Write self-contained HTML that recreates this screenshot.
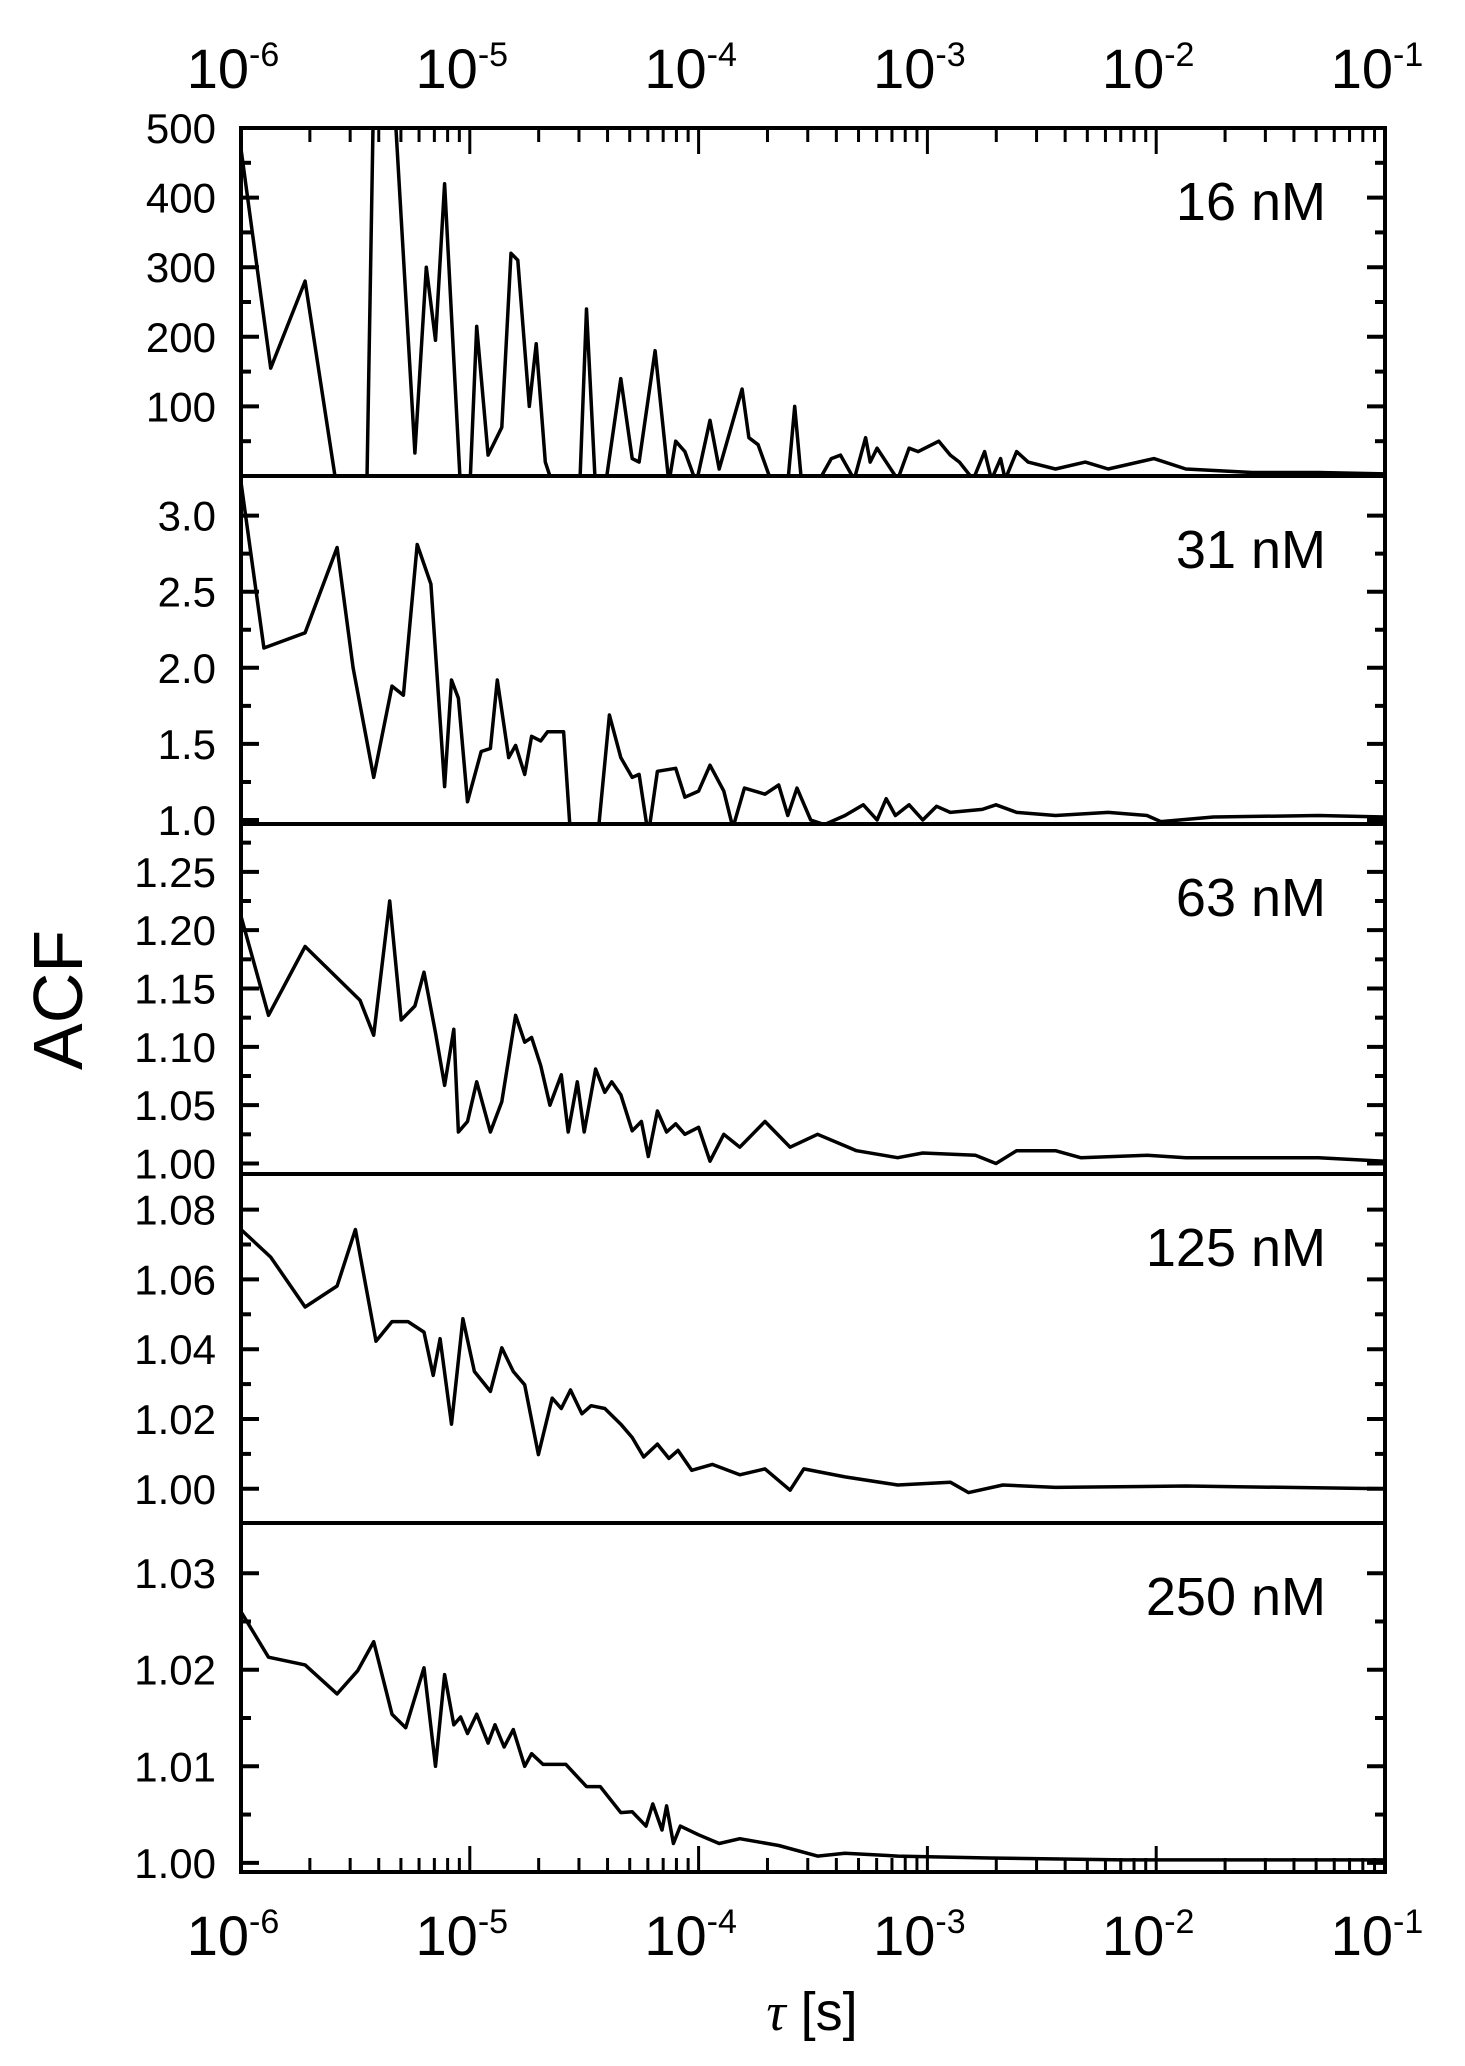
<!DOCTYPE html>
<html><head><meta charset="utf-8"><style>
html,body{margin:0;padding:0;background:#fff;}
svg{display:block;font-family:"Liberation Sans",Arial,sans-serif;}
</style></head>
<body>
<svg id="chart" width="1465" height="2066" viewBox="0 0 1465 2066" xmlns="http://www.w3.org/2000/svg">
<g id="marks"></g>
<g id="frame"></g>
<text x="0" y="0" transform="translate(82,1000) rotate(-90)" text-anchor="middle" font-size="70" fill="#000">ACF</text>
<text x="812" y="2030" text-anchor="middle" font-size="54" fill="#000"><tspan font-family="Liberation Serif" font-style="italic">τ</tspan> [s]</text>
</svg>
<script>
const labels = ["16 nM","31 nM","63 nM","125 nM","250 nM"];
const xTickExps = [-6,-5,-4,-3,-2,-1];
const yRanges = [[0,500],[0.974,3.26],[0.991,1.291],[0.9902,1.0902],[0.99905,1.0352]];
const yMajors = [[100,200,300,400,500],[1.0,1.5,2.0,2.5,3.0],[1.00,1.05,1.10,1.15,1.20,1.25],[1.00,1.02,1.04,1.06,1.08],[1.00,1.01,1.02,1.03]];
const yMajorLabels = [["100","200","300","400","500"],["1.0","1.5","2.0","2.5","3.0"],["1.00","1.05","1.10","1.15","1.20","1.25"],["1.00","1.02","1.04","1.06","1.08"],["1.00","1.01","1.02","1.03"]];
const yMinorStep = [50,0.25,0.025,0.01,0.005];

const logTau1 = [-6.00,-5.87,-5.72,-5.58,-5.45,-5.42,-5.33,-5.24,-5.19,-5.15,-5.11,-5.04,-5.00,-4.97,-4.92,-4.86,-4.82,-4.79,-4.74,-4.71,-4.67,-4.63,-4.52,-4.49,-4.45,-4.41,-4.34,-4.29,-4.26,-4.19,-4.13,-4.10,-4.06,-4.01,-3.95,-3.91,-3.81,-3.78,-3.74,-3.68,-3.61,-3.58,-3.55,-3.48,-3.42,-3.38,-3.32,-3.27,-3.25,-3.22,-3.13,-3.08,-3.04,-2.95,-2.90,-2.86,-2.80,-2.75,-2.72,-2.68,-2.66,-2.61,-2.56,-2.44,-2.31,-2.21,-2.01,-1.87,-1.58,-1.29,-1.00];
const acf1 = [470,155,280,-20,-20,560,540,33,300,195,420,-20,-20,215,30,70,320,310,100,190,20,-20,-20,240,-20,-20,140,25,20,180,-10,50,35,-10,80,10,125,55,45,-10,-10,100,-10,-10,25,30,-5,55,20,40,-5,40,35,50,30,20,-5,35,-5,25,-5,35,20,10,20,10,25,10,5,5,3];

const logTau2 = [-6.00,-5.90,-5.72,-5.58,-5.51,-5.42,-5.34,-5.29,-5.23,-5.17,-5.11,-5.08,-5.05,-5.01,-4.95,-4.91,-4.88,-4.83,-4.80,-4.76,-4.73,-4.69,-4.66,-4.59,-4.56,-4.44,-4.39,-4.34,-4.29,-4.26,-4.22,-4.18,-4.10,-4.06,-4.00,-3.95,-3.89,-3.85,-3.80,-3.71,-3.65,-3.61,-3.57,-3.51,-3.45,-3.36,-3.28,-3.22,-3.18,-3.14,-3.08,-3.02,-2.96,-2.90,-2.76,-2.70,-2.61,-2.44,-2.21,-2.04,-1.98,-1.75,-1.29,-1.00];
const acf2 = [3.22,2.13,2.23,2.79,2.0,1.28,1.88,1.82,2.81,2.55,1.22,1.92,1.80,1.12,1.45,1.47,1.92,1.41,1.49,1.30,1.55,1.52,1.58,1.58,0.9,0.9,1.69,1.41,1.28,1.30,0.9,1.32,1.34,1.15,1.19,1.36,1.19,0.95,1.21,1.17,1.23,1.03,1.21,1.0,0.97,1.03,1.10,1.0,1.14,1.03,1.10,1.0,1.09,1.05,1.07,1.10,1.05,1.03,1.05,1.03,0.99,1.02,1.03,1.02];

const logTau3 = [-6.00,-5.88,-5.72,-5.48,-5.42,-5.35,-5.30,-5.24,-5.20,-5.15,-5.11,-5.07,-5.05,-5.01,-4.97,-4.91,-4.86,-4.80,-4.76,-4.73,-4.69,-4.65,-4.60,-4.57,-4.53,-4.50,-4.45,-4.41,-4.38,-4.34,-4.29,-4.25,-4.22,-4.18,-4.14,-4.10,-4.06,-4.00,-3.95,-3.89,-3.82,-3.71,-3.60,-3.48,-3.31,-3.13,-3.02,-2.79,-2.70,-2.61,-2.44,-2.33,-2.04,-1.87,-1.29,-1.00];
const acf3 = [1.212,1.127,1.186,1.140,1.110,1.225,1.123,1.135,1.164,1.112,1.067,1.115,1.027,1.036,1.070,1.027,1.053,1.127,1.104,1.108,1.084,1.050,1.076,1.027,1.070,1.027,1.081,1.061,1.070,1.059,1.028,1.036,1.006,1.045,1.027,1.034,1.025,1.031,1.002,1.025,1.014,1.036,1.014,1.025,1.011,1.005,1.009,1.007,1.0,1.011,1.011,1.005,1.007,1.005,1.005,1.002];

const logTau4 = [-6.00,-5.87,-5.72,-5.58,-5.50,-5.41,-5.34,-5.27,-5.20,-5.16,-5.13,-5.08,-5.03,-4.98,-4.91,-4.86,-4.81,-4.76,-4.70,-4.64,-4.60,-4.56,-4.51,-4.47,-4.41,-4.34,-4.29,-4.24,-4.18,-4.13,-4.09,-4.03,-3.94,-3.82,-3.71,-3.60,-3.54,-3.36,-3.13,-2.90,-2.82,-2.67,-2.44,-1.87,-1.00];
const acf4 = [1.0743,1.0664,1.0521,1.0581,1.0743,1.0423,1.0479,1.0479,1.0449,1.0325,1.0430,1.0185,1.0487,1.0336,1.0279,1.0404,1.0336,1.0298,1.0098,1.0260,1.023,1.0283,1.0215,1.0238,1.023,1.0185,1.0147,1.0091,1.0128,1.0087,1.011,1.0053,1.007,1.004,1.0057,0.9996,1.0057,1.0034,1.0011,1.0019,0.9989,1.0011,1.0004,1.0008,1.0];

const logTau5 = [-6.00,-5.88,-5.72,-5.58,-5.49,-5.42,-5.34,-5.28,-5.20,-5.15,-5.11,-5.07,-5.04,-5.01,-4.97,-4.92,-4.89,-4.85,-4.81,-4.76,-4.73,-4.68,-4.58,-4.49,-4.43,-4.34,-4.29,-4.23,-4.20,-4.16,-4.14,-4.11,-4.08,-4.00,-3.91,-3.82,-3.65,-3.48,-3.36,-3.13,-2.73,-2.15,-1.00];
const acf5 = [1.0260,1.0213,1.0205,1.0175,1.0199,1.0229,1.0154,1.0140,1.0202,1.0100,1.0195,1.0143,1.0151,1.0134,1.0154,1.0124,1.0143,1.0120,1.0138,1.0100,1.0113,1.0102,1.0102,1.0079,1.0079,1.0052,1.0053,1.0038,1.0061,1.0034,1.0059,1.0020,1.0038,1.0029,1.0020,1.0025,1.0018,1.0007,1.0010,1.0007,1.0005,1.0003,1.0003];

const NS = "http://www.w3.org/2000/svg";
const L = 241, R = 1385;
const panelEdges = [128, 476, 824, 1174, 1523, 1872];
const xScale = lt => L + (lt + 6) / 5 * (R - L);
function yScale(p, v) { const [a,b] = yRanges[p]; return panelEdges[p+1] - (v - a) / (b - a) * (panelEdges[p+1] - panelEdges[p]); }
function mk(tag, attrs, parent) { const e = document.createElementNS(NS, tag); for (const k in attrs) e.setAttribute(k, attrs[k]); parent.appendChild(e); return e; }

const marks = document.getElementById('marks');
const frame = document.getElementById('frame');
const tauSets = [logTau1, logTau2, logTau3, logTau4, logTau5];
const acfSets = [acf1, acf2, acf3, acf4, acf5];

for (let p = 0; p < 5; p++) {
  const top = panelEdges[p], bot = panelEdges[p+1];
  const cp = mk('clipPath', {id: 'clip' + p}, marks);
  mk('rect', {x: L, y: top, width: R - L, height: bot - top}, cp);
  const pts = tauSets[p].map((t, i) => xScale(t).toFixed(1) + ',' + yScale(p, acfSets[p][i]).toFixed(1)).join(' ');
  const line = mk('polyline', {points: pts, fill: 'none', stroke: '#000', 'stroke-width': 3.5, 'stroke-linejoin': 'round', 'clip-path': 'url(#clip' + p + ')'}, marks);
  
  

  const box = mk('rect', {x: L, y: top, width: R - L, height: bot - top, fill: 'none', stroke: '#000', 'stroke-width': 4}, frame);
  
  

  const [a, b] = yRanges[p];
  const st = yMinorStep[p];
  for (let v = Math.ceil(a / st - 1e-6) * st; v <= b + 1e-9; v += st) {
    const y = yScale(p, v);
    if (y < top + 2 || y > bot - 2) continue;
    const isMajor = yMajors[p].some(m => Math.abs(m - v) < st / 10);
    const len = isMajor ? 18 : 10;
    mk('line', {x1: L, x2: L + len, y1: y, y2: y, stroke: '#000', 'stroke-width': 4}, frame);
    mk('line', {x1: R, x2: R - len, y1: y, y2: y, stroke: '#000', 'stroke-width': 4}, frame);
  }
  yMajors[p].forEach((v, i) => {
    const t = mk('text', {x: 216, y: yScale(p, v) + 15, 'text-anchor': 'end', 'font-size': 42, fill: '#000'}, frame);
    t.textContent = yMajorLabels[p][i];
    
    
  });
  const lab = mk('text', {x: 1326, y: top + 92, 'text-anchor': 'end', 'font-size': 54, fill: '#000'}, frame);
  lab.textContent = labels[p];
  
  
}

for (let e = -6; e < -1; e++) {
  for (let m = 1; m <= 9; m++) {
    const x = xScale(e + Math.log10(m));
    if (x <= L + 1) continue;
    const len = m === 1 ? 26 : 14;
    mk('line', {x1: x, x2: x, y1: 128, y2: 128 + len, stroke: '#000', 'stroke-width': 3}, frame);
    mk('line', {x1: x, x2: x, y1: 1872, y2: 1872 - len, stroke: '#000', 'stroke-width': 3}, frame);
  }
}
xTickExps.forEach(e => {
  const x = xScale(e);
  [[88, 'x-top-tick-label'], [1955, 'x-bottom-tick-label']].forEach(([y, nm]) => {
    const t = mk('text', {x: x - 8, y: y, 'text-anchor': 'middle', 'font-size': 56, fill: '#000'}, frame);
    
    
    const s1 = mk('tspan', {}, t); s1.textContent = '10';
    const s2 = mk('tspan', {dy: -22, 'font-size': 34}, t); s2.textContent = String(e);
  });
});
</script>
</body></html>
